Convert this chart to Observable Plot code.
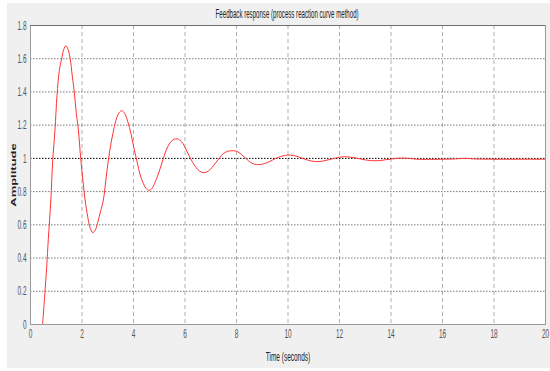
<!DOCTYPE html>
<html>
<head>
<meta charset="utf-8">
<script src="https://cdn.jsdelivr.net/npm/d3@7"></script>
<script src="https://cdn.jsdelivr.net/npm/@observablehq/plot@0.6"></script>
<style>
  body { margin: 0; background: #ffffff; width: 550px; height: 371px; overflow: hidden; }
  #bg { position: absolute; left: 7px; top: 3px; width: 543px; height: 365px; background: #f0f0f0; }
  #chart { position: relative; width: 550px; }
  #title { height: 20px; margin-left: 30px; width: 515px; text-align: center; font-family: "Liberation Sans", Arial, sans-serif; font-size: 13px; color: #222; line-height: 13px; padding-top: 7px; box-sizing: border-box; white-space: nowrap; }
  #title span { display: inline-block; transform: scaleX(0.47); transform-origin: center; }
</style>
</head>
<body>
<div id="bg"></div>
<div id="chart">
  <div id="title"><span>Feedback response (process reaction curve method)</span></div>
</div>
<script>
const titleText = "Feedback response (process reaction curve method)";
const xLabel = "Time (seconds)";
const yLabel = "Amplitude";

const xTicks = [0, 2, 4, 6, 8, 10, 12, 14, 16, 18, 20];
const xTickLabels = ["0", "2", "4", "6", "8", "10", "12", "14", "16", "18", "20"];
const yTicks = [0, 0.2, 0.4, 0.6, 0.8, 1, 1.2, 1.4, 1.6, 1.8];
const yTickLabels = ["0", "0.2", "0.4", "0.6", "0.8", "1", "1.2", "1.4", "1.6", "1.8"];

// step response
const time = [
  0.47, 0.55, 0.63, 0.69, 0.79, 0.86, 0.95, 1.03, 1.12, 1.21, 1.29, 1.37, 1.45, 1.54, 1.62, 1.70, 1.78, 1.86, 1.95,
  2.04, 2.12, 2.22, 2.32, 2.42, 2.52, 2.62, 2.72, 2.83, 2.95, 3.07, 3.20, 3.32, 3.44, 3.55, 3.66, 3.78, 3.90,
  4.02, 4.14, 4.26, 4.38, 4.48, 4.58, 4.70, 4.82, 4.95, 5.08, 5.20, 5.33, 5.45, 5.58, 5.69, 5.80, 5.92,
  6.05, 6.18, 6.30, 6.43, 6.55, 6.68, 6.79, 6.92, 7.05, 7.20, 7.35, 7.50, 7.65, 7.80, 7.95,
  8.10, 8.25, 8.40, 8.55, 8.70, 8.85, 9.00, 9.20, 9.40, 9.60, 9.80, 10.0, 10.2, 10.4, 10.6, 10.8,
  11.0, 11.2, 11.4, 11.6, 11.8, 12.0, 12.2, 12.4, 12.6, 12.8, 13.0, 13.2, 13.5, 13.8, 14.1, 14.4, 14.7,
  15.0, 15.5, 16.0, 16.5, 16.9, 17.2, 18.0, 19.0, 20.0
];
const amplitude = [
  0, 0.17, 0.35, 0.51, 0.75, 0.98, 1.17, 1.38, 1.53, 1.60, 1.655, 1.678, 1.66, 1.60, 1.50, 1.40, 1.27, 1.17, 1.00,
  0.86, 0.75, 0.65, 0.58, 0.553, 0.57, 0.62, 0.68, 0.75, 0.90, 1.04, 1.15, 1.23, 1.275, 1.287, 1.27, 1.22, 1.15,
  1.06, 0.98, 0.90, 0.85, 0.82, 0.808, 0.815, 0.85, 0.90, 0.96, 1.02, 1.07, 1.10, 1.115, 1.118, 1.11, 1.09,
  1.05, 1.01, 0.975, 0.945, 0.925, 0.915, 0.915, 0.925, 0.945, 0.975, 1.005, 1.03, 1.042, 1.046, 1.045,
  1.035, 1.015, 0.995, 0.975, 0.965, 0.962, 0.965, 0.975, 0.99, 1.005, 1.015, 1.02, 1.018, 1.01, 0.998, 0.988,
  0.982, 0.981, 0.985, 0.993, 1.0, 1.007, 1.01, 1.008, 1.003, 0.997, 0.991, 0.987, 0.986, 0.992, 0.998, 1.002, 1.0,
  0.995, 0.994, 0.995, 0.997, 1.0, 0.997, 0.995, 0.995, 0.995
];

const data = time.map((t, i) => ({t, v: amplitude[i]}));

document.querySelector("#title span").textContent = titleText;

const plot = Plot.plot({
  width: 550,
  height: 348,
  marginLeft: 30,
  marginRight: 5,
  marginTop: 5,
  marginBottom: 44,
  style: {background: "transparent", fontFamily: "'Liberation Sans', Arial, sans-serif", fontSize: "13px", color: "#555", overflow: "visible"},
  x: {domain: [0, 20], ticks: xTicks, tickFormat: (d) => xTickLabels[xTicks.indexOf(d)], tickSize: 0, tickPadding: 4, label: null},
  y: {domain: [0, 1.8], ticks: yTicks, tickFormat: (d) => yTickLabels[yTicks.indexOf(d)], tickSize: 0, tickPadding: 4, label: null},
  marks: [
    Plot.frame({fill: "white", stroke: "none"}),
    Plot.ruleX(xTicks.filter((d) => d > 0 && d < 20), {stroke: "#b0b0b0", strokeDasharray: "4,3", strokeWidth: 1}),
    Plot.ruleY(yTicks.filter((d) => d > 0 && d < 1.8 && d !== 1), {stroke: "#7a7a7a", strokeDasharray: "1.5,1.5", strokeWidth: 1}),
    Plot.ruleY([1], {stroke: "#000000", strokeDasharray: "1.5,1.5", strokeWidth: 1}),
    Plot.line(data, {x: "t", y: "v", stroke: "#ff3333", strokeWidth: 1, curve: "catmull-rom"}),
    Plot.frame({stroke: "#9a9a9a"}),
    Plot.ruleY([1.8], {stroke: "#6e6e6e"}),
    Plot.text([yLabel], {text: (d) => d, frameAnchor: "left", textAnchor: "middle", lineAnchor: "middle", dx: -17, rotate: -90, fontWeight: "bold", fontSize: 13, fill: "#222"}),
    Plot.text([xLabel], {text: (d) => d, frameAnchor: "bottom", textAnchor: "middle", lineAnchor: "middle", dy: 32, fill: "#222", fontSize: 13})
  ]
});

// condense all text horizontally, like the squeezed original
plot.querySelectorAll("text").forEach((t) => {
  let tr = t.getAttribute("transform");
  if (!tr || !tr.startsWith("translate")) {
    const x = t.getAttribute("x") || 0, y = t.getAttribute("y") || 0;
    t.removeAttribute("x"); t.removeAttribute("y");
    tr = `translate(${x},${y})` + (tr ? " " + tr : "");
  }
  t.setAttribute("transform", tr.replace(/^(translate\([^)]*\))/, "$1 scale(0.5,1)"));
});

document.getElementById("chart").appendChild(plot);
</script>
</body>
</html>
